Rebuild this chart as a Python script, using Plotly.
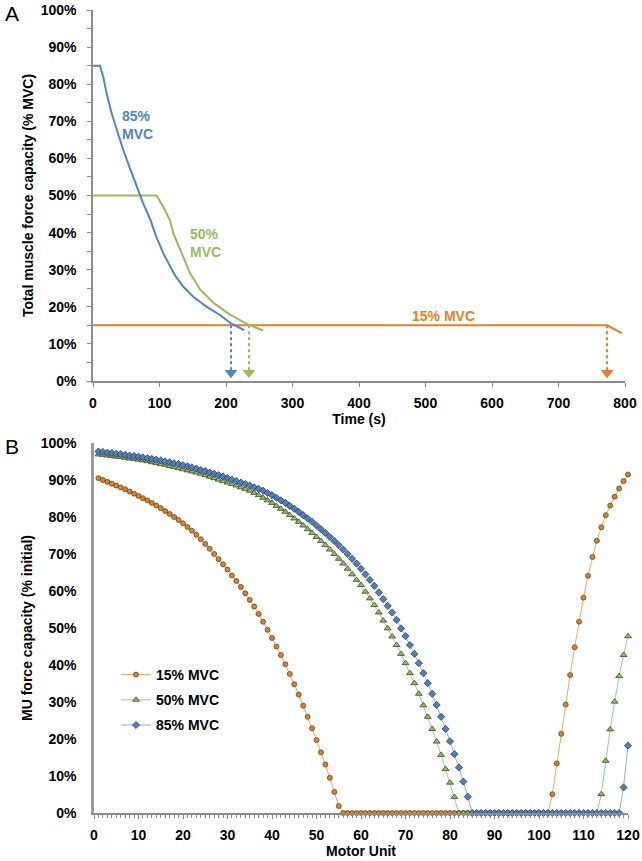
import plotly.graph_objects as go

# ---------------- Panel A data ----------------
time_85 = [0, 10.5, 15.5, 20.6, 28.1, 35.6, 45.6, 55.6, 65.7, 75.6, 86.7, 93.2, 105.7, 115.8,
           123.3, 135.8, 150.8, 171, 191, 207.5, 227.5]
cap_85 = [85, 85, 81.9, 77.4, 72.1, 67.6, 62.2, 57.3, 52.3, 47.8, 43.3, 39.8, 34.4, 30.8,
          28.5, 25.4, 22.7, 20.0, 17.8, 15.5, 13.7]
time_50 = [0, 95.7, 105.8, 115.8, 120.8, 133.3, 145.9, 160.9, 181, 206, 233.5, 256]
cap_50 = [50, 50, 46.9, 43.3, 39.8, 34.4, 29.1, 24.7, 21.1, 17.9, 15.2, 13.6]
time_15 = [0, 773, 795]
cap_15 = [15, 15, 12.9]
endurance_times = [207.5, 234.5, 773]   # 85%, 50%, 15% MVC arrows
target_level = 15

# ---------------- Panel B data ----------------
motor_units = list(range(1, 121))
mu_15 = [90.5, 90.0, 89.5, 89.0, 88.5, 88.0, 87.5, 86.9, 86.3, 85.7,
         85.1, 84.5, 83.8, 83.1, 82.4, 81.6, 80.8, 80.0, 79.2, 78.3,
         77.3, 76.3, 75.2, 74.0, 72.7, 71.4, 70.0, 68.6, 67.2, 65.8,
         64.2, 62.7, 61.1, 59.4, 57.6, 55.8, 53.8, 51.7, 49.5, 47.3,
         45.0, 42.7, 40.2, 37.6, 34.8, 32.0, 29.0, 26.0, 22.9, 19.7,
         16.4, 13.1, 9.5, 5.7, 1.9, 0, 0, 0, 0, 0,
         0, 0, 0, 0, 0, 0, 0, 0, 0, 0,
         0, 0, 0, 0, 0, 0, 0, 0, 0, 0,
         0, 0, 0, 0, 0, 0, 0, 0, 0, 0,
         0, 0, 0, 0, 0, 0, 0, 0, 0, 0,
         0, 0, 5.1, 13.4, 21.4, 29.3, 37.3, 44.8, 51.7, 58.2,
         64.1, 69.2, 73.6, 77.2, 80.5, 83.1, 85.5, 87.7, 89.7, 91.5]
mu_50 = [96.9, 96.8, 96.6, 96.5, 96.3, 96.2, 96.0, 95.8, 95.7, 95.5,
         95.3, 95.1, 94.8, 94.6, 94.3, 94.1, 93.8, 93.5, 93.2, 92.9,
         92.6, 92.3, 92.0, 91.7, 91.3, 90.9, 90.5, 90.1, 89.7, 89.3,
         88.9, 88.5, 88.0, 87.6, 87.1, 86.5, 85.9, 85.2, 84.5, 83.8,
         83.0, 82.2, 81.4, 80.5, 79.6, 78.7, 77.7, 76.7, 75.7, 74.6,
         73.5, 72.4, 71.2, 70.0, 68.7, 67.4, 66.0, 64.5, 63.0, 61.6,
         59.8, 58.0, 56.2, 54.2, 52.0, 49.9, 47.7, 45.4, 43.0, 40.5,
         37.8, 35.1, 32.2, 29.1, 26.0, 22.7, 19.3, 15.7, 11.9, 8.2,
         4.3, 0, 0, 0, 0, 0, 0, 0, 0, 0,
         0, 0, 0, 0, 0, 0, 0, 0, 0, 0,
         0, 0, 0, 0, 0, 0, 0, 0, 0, 0,
         0, 0, 0, 5.1, 14.1, 22.6, 30.1, 37.0, 42.7, 47.8]
mu_85 = [97.7, 97.6, 97.4, 97.3, 97.1, 97.0, 96.8, 96.6, 96.5, 96.3,
         96.1, 95.9, 95.7, 95.5, 95.3, 95.0, 94.8, 94.5, 94.3, 94.0,
         93.7, 93.4, 93.1, 92.7, 92.4, 92.0, 91.7, 91.3, 90.9, 90.5,
         90.1, 89.7, 89.3, 88.9, 88.5, 88.0, 87.6, 87.1, 86.5, 85.9,
         85.2, 84.5, 83.8, 83.0, 82.2, 81.4, 80.5, 79.6, 78.7, 77.7,
         76.7, 75.7, 74.6, 73.5, 72.4, 71.2, 70.0, 68.7, 67.4, 66.0,
         64.5, 63.0, 61.4, 59.6, 57.8, 56.0, 54.2, 52.2, 49.9, 47.8,
         45.4, 43.0, 40.5, 37.8, 35.1, 32.2, 29.2, 26.0, 22.7, 19.4,
         15.9, 12.3, 8.5, 4.4, 0, 0, 0, 0, 0, 0,
         0, 0, 0, 0, 0, 0, 0, 0, 0, 0,
         0, 0, 0, 0, 0, 0, 0, 0, 0, 0,
         0, 0, 0, 0, 0, 0, 0, 0, 6.9, 18.2]

BLUE = "#4F86C6"
GREEN = "#9BBB59"
ORANGE = "#EC7D22"
FONT = "Arial, Liberation Sans, sans-serif"

fig = go.Figure()

# Panel A lines
for t, v, c in [(time_15, cap_15, ORANGE), (time_50, cap_50, GREEN), (time_85, cap_85, BLUE)]:
    fig.add_trace(go.Scatter(x=t, y=v, mode="lines", line=dict(color=c, width=2),
                             showlegend=False, xaxis="x", yaxis="y", hoverinfo="skip"))

# Arrows (dotted line + arrow head)
for t, c in zip(endurance_times, [BLUE, GREEN, ORANGE]):
    fig.add_trace(go.Scatter(x=[t, t], y=[target_level, 2.5], mode="lines",
                             line=dict(color=c, width=2, dash="dot"),
                             showlegend=False, xaxis="x", yaxis="y", hoverinfo="skip"))
    fig.add_trace(go.Scatter(x=[t], y=[2.2], mode="markers",
                             marker=dict(symbol="triangle-down", size=11, color=c),
                             showlegend=False, xaxis="x", yaxis="y", hoverinfo="skip",
                             cliponaxis=False))

# Panel B series
series_b = [
    ("15% MVC", mu_15, "circle", "#D9842A", "#5A3A12", "#F4A65E", 5),
    ("50% MVC", mu_50, "triangle-up", "#9BBB59", "#27361A", "#8CD4A0", 6),
    ("85% MVC", mu_85, "diamond", "#4F7FBD", "#1E3554", "#8DB4E6", 5.5),
]
for i, (name, vals, sym, fill, edge, lc, sz) in enumerate(series_b):
    fig.add_trace(go.Scatter(
        x=motor_units, y=vals, mode="lines+markers", name=name,
        line=dict(color=lc, width=1),
        marker=dict(symbol=sym, size=sz, color=fill, line=dict(color=edge, width=0.7)),
        xaxis="x2", yaxis="y2", cliponaxis=False, legendgroup=str(i)))

tickfont = dict(family=FONT, size=14, color="black", weight="bold")
titlefont = dict(family=FONT, size=14, color="black", weight="bold")
axcol = "#8C8C8C"

fig.update_layout(
    width=642, height=861,
    margin=dict(l=0, r=0, t=0, b=0),
    paper_bgcolor="white", plot_bgcolor="white",
    font=dict(family=FONT),
    xaxis=dict(domain=[93/642, 625/642], anchor="y", range=[0, 800], dtick=100,
               automargin=False,
               showgrid=False, zeroline=False, showline=True, linecolor=axcol, linewidth=1.5,
               ticks="outside", ticklen=4, tickcolor=axcol, tickfont=tickfont,
               ticklabelstandoff=4,
               title=dict(text="Time (s)", font=titlefont, standoff=2)),
    yaxis=dict(domain=[1-381/861, 1-10/861], anchor="x", range=[0, 100], dtick=10,
               automargin=False,
               ticksuffix="%", showgrid=False, zeroline=False, showline=True,
               linecolor=axcol, linewidth=1.5, ticks="outside", ticklen=4, tickcolor=axcol,
               minor=dict(dtick=5, ticks="outside", ticklen=4, tickcolor=axcol),
               tickfont=tickfont, ticklabelstandoff=8,
               title=dict(text="Total muscle force capacity (% MVC)", font=titlefont, standoff=4)),
    xaxis2=dict(domain=[94/642, 628/642], anchor="y2", range=[0, 120], dtick=10,
                automargin=False,
                showgrid=False, zeroline=False, showline=True, linecolor=axcol, linewidth=1.5,
                ticks="outside", ticklen=4, tickcolor=axcol,
                minor=dict(dtick=1, ticks="outside", ticklen=3, tickcolor=axcol),
                tickfont=tickfont, ticklabelstandoff=4,
                title=dict(text="Motor Unit", font=titlefont, standoff=4)),
    yaxis2=dict(domain=[1-813/861, 1-443/861], anchor="x2", range=[0, 100], dtick=10,
                automargin=False,
                ticksuffix="%", showgrid=False, zeroline=False, showline=True,
                linecolor="#9A9A9A", linewidth=2.5, ticks="", tickfont=tickfont,
                ticklabelstandoff=12,
                title=dict(text="MU force capacity (% initial)", font=titlefont, standoff=5)),
    legend=dict(x=116/642, y=1-659/861, xanchor="left", yanchor="top",
                font=dict(family=FONT, size=14, color="black", weight="bold"),
                bgcolor="rgba(0,0,0,0)", traceorder="grouped", tracegroupgap=4,
                itemwidth=30),
    annotations=[
        dict(text="A", x=3/642, y=1-14/861, xref="paper", yref="paper", xanchor="left",
             yanchor="middle", showarrow=False, font=dict(family=FONT, size=21, color="black")),
        dict(text="B", x=3/642, y=1-447/861, xref="paper", yref="paper", xanchor="left",
             yanchor="middle", showarrow=False, font=dict(family=FONT, size=21, color="black")),
        dict(text="85%<br>MVC", x=40, y=69, xref="x", yref="y", xanchor="left", align="left",
             showarrow=False, font=dict(family=FONT, size=14, color=BLUE, weight="bold")),
        dict(text="50%<br>MVC", x=143, y=37.3, xref="x", yref="y", xanchor="left", align="left",
             showarrow=False, font=dict(family=FONT, size=14, color=GREEN, weight="bold")),
        dict(text="15% MVC", x=527, y=17.4, xref="x", yref="y", xanchor="center",
             showarrow=False, font=dict(family=FONT, size=14, color=ORANGE, weight="bold")),
    ],
)

fig.write_html("out.html", config={"displayModeBar": False},
               post_script="document.body.style.margin='0';document.body.style.overflow='hidden';")
